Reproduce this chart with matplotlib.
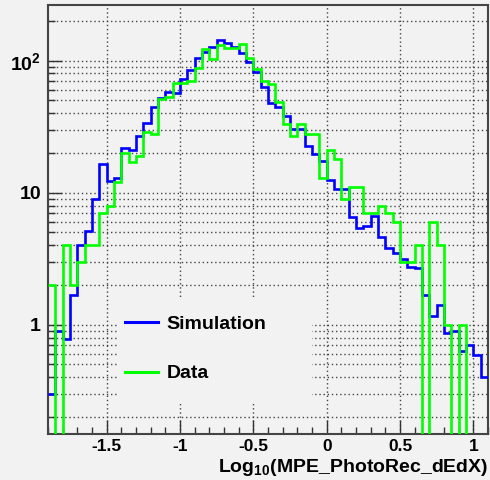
import numpy as np
from matplotlib import pyplot as plt
from matplotlib.patches import Rectangle
from matplotlib.lines import Line2D
from matplotlib.ticker import FixedLocator, NullFormatter

# histogram binning: 60 bins from -1.9 to 1.1
x_lo, x_hi, n_bins = -1.9, 1.1, 60

sim = [0.30, 0.89, 0.78, 1.68, 4.0, 5.1, 9.0, 16.5, 12.2, 13.0,
       21.7, 20.9, 27, 34, 44.7, 52.5, 58, 57, 73, 85,
       104, 117, 128, 143, 135, 126, 114, 98, 82, 63,
       48, 44.7, 38.4, 30.2, 30.4, 22.4, 19.5, 17.3, 12.5, 10.7,
       10.6, 6.6, 5.4, 5.6, 6.7, 4.6, 3.8, 3.49, 3.15, 2.76,
       2.68, 1.69, 1.16, 1.42, 0.865, 0.90, 0.635, 0.70, 0.59, 0.40]

data = [2, 0, 4, 2, 3, 4, 4, 7, 8, 12,
        20, 17, 19, 29, 28, 51, 53, 68, 68, 70,
        88, 123, 103, 132, 125, 125, 134, 104, 87, 70,
        67, 49, 33, 27, 33, 28, 28, 13, 21, 18,
        9, 11, 11, 7, 7, 8, 7, 6, 3, 3,
        4, 0, 6, 4, 1, 0, 1, 0, 0, 0]

x_ticks = [-1.5, -1, -0.5, 0, 0.5, 1]
x_ticklabels = ['-1.5', '-1', '-0.5', '0', '0.5', '1']
y_ticks = [1, 10, 100]
y_ticklabels = ['1', '10', '10$^{2}$']

bg = '#f2f2f2'
plt.rcParams['font.family'] = ['Liberation Sans', 'DejaVu Sans']
plt.rcParams['font.weight'] = 'bold'
plt.rcParams['mathtext.fontset'] = 'custom'
plt.rcParams['mathtext.rm'] = 'Liberation Sans:bold'
plt.rcParams['mathtext.it'] = 'Liberation Sans:bold'
plt.rcParams['mathtext.bf'] = 'Liberation Sans:bold'

fig = plt.figure(figsize=(4.9, 4.8), dpi=100, facecolor=bg)
ax = fig.add_axes([0.098, 0.096, 0.898, 0.894], facecolor=bg)

edges = np.linspace(x_lo, x_hi, n_bins + 1)
sim_arr = np.array(sim)
data_arr = np.array(data, dtype=float)
# empty bins drop to the bottom of the frame
data_draw = np.where(data_arr > 0, data_arr, 1e-3)

ax.stairs(sim_arr, edges, baseline=None, color='#0000ff', lw=1.9, zorder=3)
ax.stairs(data_draw, edges, baseline=None, color='#00ff00', lw=1.9, zorder=3)

ax.set_yscale('log')
ax.set_xlim(x_lo, x_hi)
ax.set_ylim(0.149, 265)

ax.xaxis.set_major_locator(FixedLocator(x_ticks))
ax.set_xticklabels(x_ticklabels)
ax.xaxis.set_minor_locator(FixedLocator(np.round(np.arange(-1.9, 1.11, 0.1), 2)))
ax.yaxis.set_major_locator(FixedLocator(y_ticks))
ax.set_yticklabels(y_ticklabels)
minors = [m * 10.0 ** d for d in (-1, 0, 1, 2) for m in range(2, 10)]
ax.yaxis.set_minor_locator(FixedLocator(minors))
ax.yaxis.set_minor_formatter(NullFormatter())

ax.tick_params(which='both', direction='in', top=False, right=False,
               color='#333333', width=1)
ax.tick_params(which='major', length=10, labelsize=12.5, pad=4)
ax.tick_params(axis='y', which='major', labelsize=14, pad=5)
ax.tick_params(which='minor', length=5)

ax.set_axisbelow(True)
ax.grid(True, which='major', axis='x', color='#444444', lw=1, ls=(0, (1, 2)))
ax.grid(True, which='both', axis='y', color='#444444', lw=1, ls=(0, (1, 2)))

for s in ax.spines.values():
    s.set_color('#444444')
    s.set_linewidth(1.5)

ax.set_xlabel('Log$_{10}$(MPE_PhotoRec_dEdX)', fontsize=14, fontweight='bold',
              ha='right')
ax.xaxis.set_label_coords(1.0, -0.053)

# legend box hides the grid behind it
ax.add_patch(Rectangle((0.157, 0.07), 0.443, 0.247, transform=ax.transAxes,
                       facecolor=bg, edgecolor='none', zorder=1))
handles = [Line2D([], [], color='#0000ff', lw=2.2),
           Line2D([], [], color='#00ff00', lw=2.2)]
ax.legend(handles, ['Simulation', 'Data'], loc='upper left',
          bbox_to_anchor=(0.175, 0.277), frameon=False, borderpad=0,
          borderaxespad=0, handlelength=1.7, handletextpad=0.45,
          labelspacing=1.65, prop={'size': 14, 'weight': 'bold'})

plt.savefig('out.png', dpi=100, facecolor=bg)
